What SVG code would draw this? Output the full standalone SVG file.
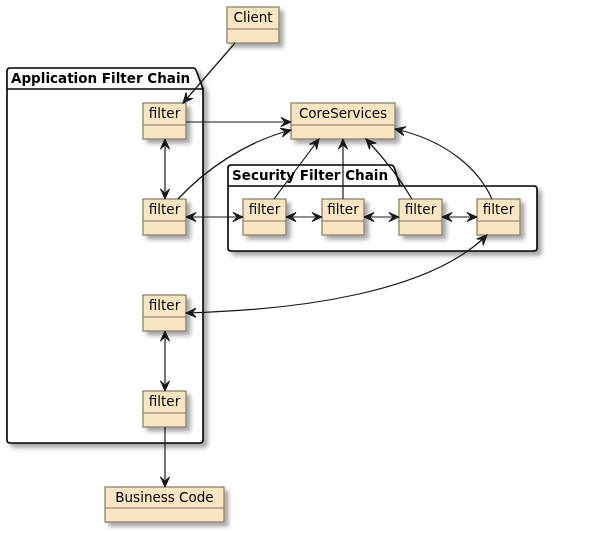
<svg xmlns="http://www.w3.org/2000/svg" width="609" height="534" viewBox="0 0 609 534">
<style>
.node{fill:#F8E6C3;stroke:#857766;stroke-width:1.2}
.div{stroke:#857766;stroke-width:1.2}
.lbl{font-family:"DejaVu Sans",sans-serif;font-size:13.5px;fill:#000;text-anchor:middle}
.pkg{fill:#fff;stroke:#000;stroke-width:1.6}
.ptitle{font-family:"DejaVu Sans",sans-serif;font-size:13.5px;font-weight:bold;fill:#000}
.edge{fill:none;stroke:#181818;stroke-width:1.2}
</style>
<defs>
<filter id="sh" x="-20%" y="-20%" width="150%" height="150%">
<feGaussianBlur in="SourceAlpha" stdDeviation="2"/>
<feOffset dx="4" dy="4" result="o"/>
<feComponentTransfer><feFuncA type="linear" slope="0.35"/></feComponentTransfer>
<feMerge><feMergeNode/><feMergeNode in="SourceGraphic"/></feMerge>
</filter>
<marker id="ah" viewBox="-12 -6 13 12" refX="0" refY="0" markerWidth="13" markerHeight="12" markerUnits="userSpaceOnUse" orient="auto-start-reverse">
<path d="M0,0 L-10,-4.5 L-6,0 L-10,4.5 Z" fill="#181818" stroke="#181818" stroke-width="1" stroke-linejoin="miter"/>
</marker>
</defs>

<g id="pkg-app" filter="url(#sh)">
<path class="pkg" d="M7,89 V71 Q7,68 10,68 H193 Q195,68 196,70 L203,89 V440 Q203,443 200,443 H10 Q7,443 7,440 Z"/>
<path class="pkg" d="M7,89 H203" fill="none"/>
<text class="ptitle" x="11" y="83">Application Filter Chain</text>
</g>

<g id="pkg-sec" filter="url(#sh)">
<path class="pkg" d="M228,186 V168 Q228,165 231,165 H391 Q393,165 394,167 L400,186 H534 Q537,186 537,189 V248 Q537,251 534,251 H231 Q228,251 228,248 Z"/>
<path class="pkg" d="M228,186 H400" fill="none"/>
<text class="ptitle" x="232" y="180">Security Filter Chain</text>
</g>

<g id="client" filter="url(#sh)">
<rect class="node" x="227" y="7" width="52" height="36"/>
<line class="div" x1="227" y1="29" x2="279" y2="29"/>
<text class="lbl" x="253" y="22">Client</text>
</g>

<g id="core" filter="url(#sh)">
<rect class="node" x="291" y="103" width="104" height="36"/>
<line class="div" x1="291" y1="125" x2="395" y2="125"/>
<text class="lbl" x="343" y="118">CoreServices</text>
</g>

<g id="app-f1" filter="url(#sh)">
<rect class="node" x="143" y="103" width="43" height="36"/>
<line class="div" x1="143" y1="125" x2="186" y2="125"/>
<text class="lbl" x="164.5" y="118">filter</text>
</g>
<g id="app-f2" filter="url(#sh)">
<rect class="node" x="143" y="199" width="43" height="36"/>
<line class="div" x1="143" y1="221" x2="186" y2="221"/>
<text class="lbl" x="164.5" y="214">filter</text>
</g>
<g id="app-f3" filter="url(#sh)">
<rect class="node" x="143" y="295" width="43" height="36"/>
<line class="div" x1="143" y1="317" x2="186" y2="317"/>
<text class="lbl" x="164.5" y="310">filter</text>
</g>
<g id="app-f4" filter="url(#sh)">
<rect class="node" x="143" y="391" width="43" height="36"/>
<line class="div" x1="143" y1="413" x2="186" y2="413"/>
<text class="lbl" x="164.5" y="406">filter</text>
</g>

<g id="sec-f1" filter="url(#sh)">
<rect class="node" x="243" y="199" width="43" height="36"/>
<line class="div" x1="243" y1="221" x2="286" y2="221"/>
<text class="lbl" x="264.5" y="214">filter</text>
</g>
<g id="sec-f2" filter="url(#sh)">
<rect class="node" x="322" y="199" width="42" height="36"/>
<line class="div" x1="322" y1="221" x2="364" y2="221"/>
<text class="lbl" x="343" y="214">filter</text>
</g>
<g id="sec-f3" filter="url(#sh)">
<rect class="node" x="399" y="199" width="43" height="36"/>
<line class="div" x1="399" y1="221" x2="442" y2="221"/>
<text class="lbl" x="420.5" y="214">filter</text>
</g>
<g id="sec-f4" filter="url(#sh)">
<rect class="node" x="477" y="199" width="43" height="36"/>
<line class="div" x1="477" y1="221" x2="520" y2="221"/>
<text class="lbl" x="498.5" y="214">filter</text>
</g>

<g id="business" filter="url(#sh)">
<rect class="node" x="105" y="487" width="119" height="35"/>
<line class="div" x1="105" y1="508" x2="224" y2="508"/>
<text class="lbl" x="164.5" y="502">Business Code</text>
</g>

<g id="edges">
<path class="edge" d="M235,43 L183,103" marker-end="url(#ah)"/>
<path class="edge" d="M186,122 L291,122" marker-end="url(#ah)"/>
<path class="edge" d="M165,139 L165,199" marker-start="url(#ah)" marker-end="url(#ah)"/>
<path class="edge" d="M178,199 C205,170 245,142 291,130" marker-end="url(#ah)"/>
<path class="edge" d="M186,217 L243,217" marker-start="url(#ah)" marker-end="url(#ah)"/>
<path class="edge" d="M286,217 L322,217" marker-start="url(#ah)" marker-end="url(#ah)"/>
<path class="edge" d="M364,217 L399,217" marker-start="url(#ah)" marker-end="url(#ah)"/>
<path class="edge" d="M442,217 L477,217" marker-start="url(#ah)" marker-end="url(#ah)"/>
<path class="edge" d="M274,199 L319,139" marker-end="url(#ah)"/>
<path class="edge" d="M343,199 L343,139" marker-end="url(#ah)"/>
<path class="edge" d="M412,199 Q395,170 366,139" marker-end="url(#ah)"/>
<path class="edge" d="M492,199 C478,168 445,140 395,129" marker-end="url(#ah)"/>
<path class="edge" d="M186,313 C300,310 430,292 487,235" marker-start="url(#ah)" marker-end="url(#ah)"/>
<path class="edge" d="M165,331 L165,391" marker-start="url(#ah)" marker-end="url(#ah)"/>
<path class="edge" d="M165,427 L165,487" marker-end="url(#ah)"/>
</g>
</svg>
